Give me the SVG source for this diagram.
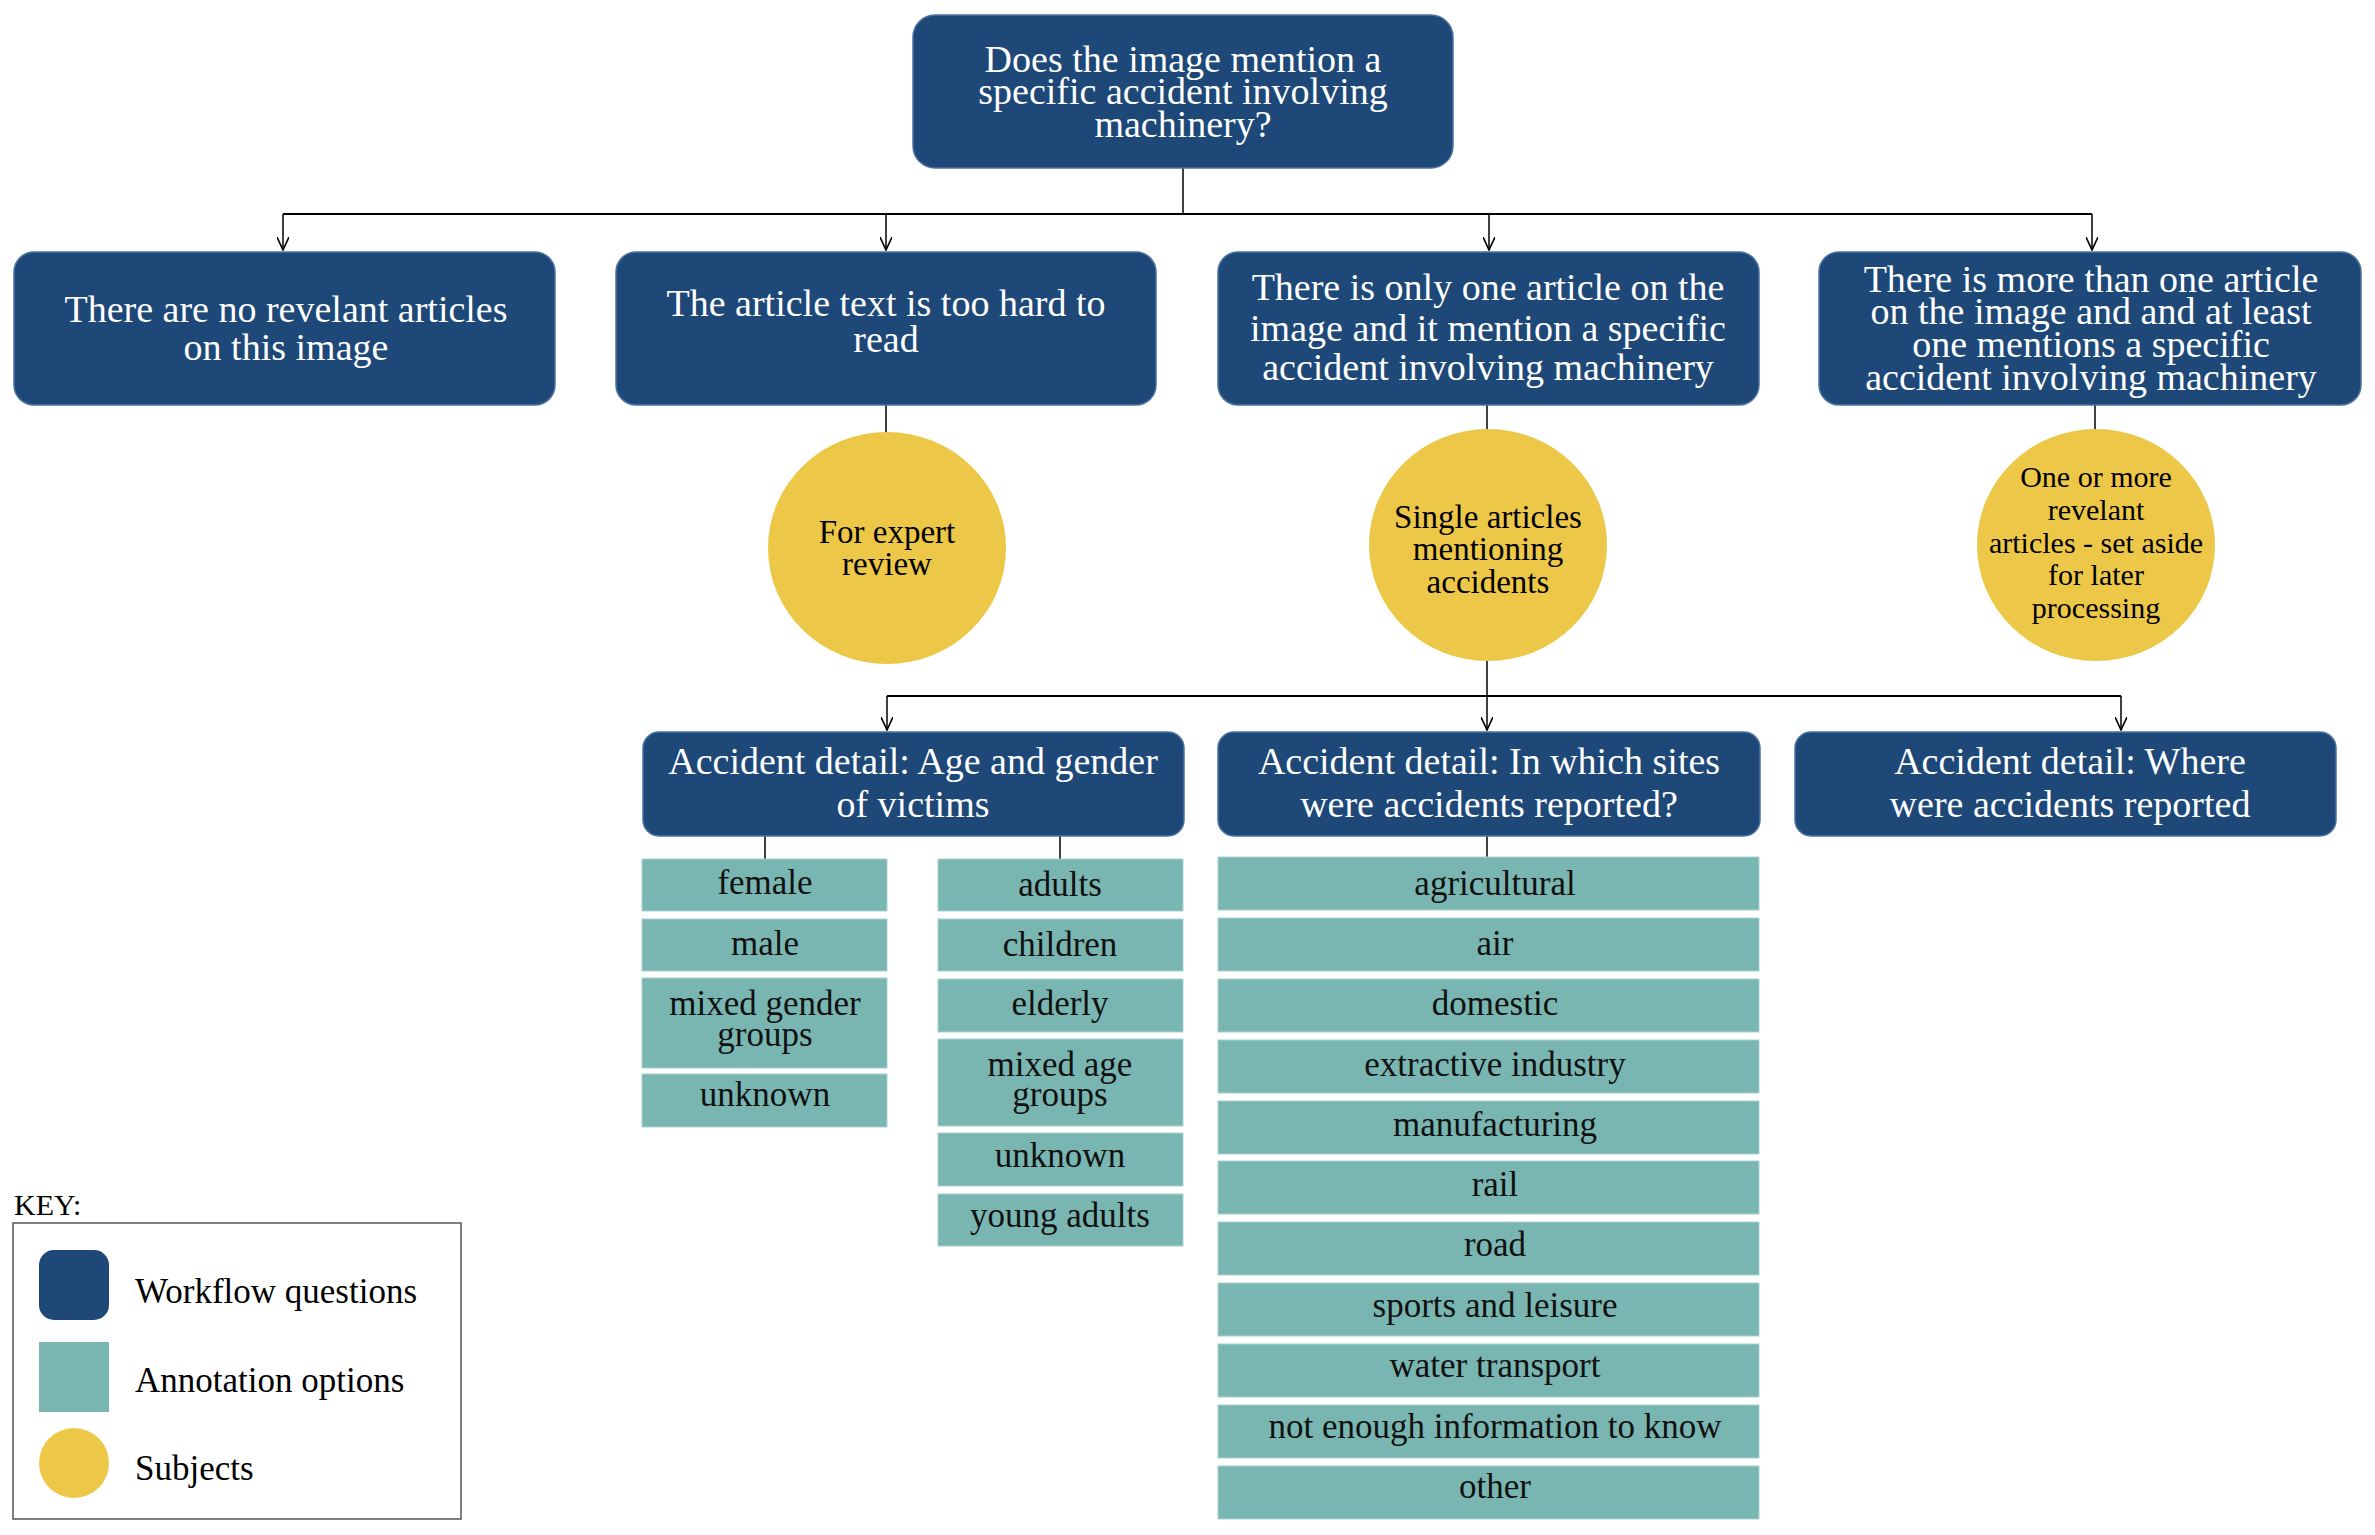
<svg xmlns="http://www.w3.org/2000/svg" width="2375" height="1535" viewBox="0 0 2375 1535">
<style>
.wf{fill:#1D4877;stroke:#4C72A0;stroke-width:1.5}
.opt{fill:#79B6B2;stroke:#A9D2CE;stroke-width:1}
.sub{fill:#EDC848}
.wt{font-family:"Liberation Serif","Times New Roman",serif;font-size:38px;fill:#FFFFFF;text-anchor:middle}
.st{font-family:"Liberation Serif","Times New Roman",serif;font-size:33px;fill:#000000;text-anchor:middle}
.ot{font-family:"Liberation Serif","Times New Roman",serif;font-size:35px;fill:#111111;text-anchor:middle}
.kt{font-family:"Liberation Serif","Times New Roman",serif;font-size:35px;fill:#000000}
.ln{stroke:#000000;stroke-width:1.5;fill:none}
.hl{stroke:#000000;stroke-width:2.2;fill:none}
</style>
<defs>
<marker id="arr" viewBox="0 0 14 12" refX="13" refY="6" markerWidth="14" markerHeight="12" markerUnits="userSpaceOnUse" orient="auto">
<polyline points="0,0 13,6 0,12" fill="none" stroke="#000000" stroke-width="1.6"/>
</marker>
</defs>
<rect width="2375" height="1535" fill="#FFFFFF"/>

<g id="connectors">
<line class="ln" x1="1183" y1="168" x2="1183" y2="214"/>
<line class="hl" x1="283" y1="214" x2="2092" y2="214"/>
<line class="ln" x1="283" y1="214" x2="283" y2="250" marker-end="url(#arr)"/>
<line class="ln" x1="886" y1="214" x2="886" y2="250" marker-end="url(#arr)"/>
<line class="ln" x1="1489" y1="214" x2="1489" y2="250" marker-end="url(#arr)"/>
<line class="ln" x1="2092" y1="214" x2="2092" y2="250" marker-end="url(#arr)"/>
<line class="ln" x1="886" y1="405" x2="886" y2="433"/>
<line class="ln" x1="1487" y1="405" x2="1487" y2="430"/>
<line class="ln" x1="2095" y1="405" x2="2095" y2="430"/>
<line class="ln" x1="1487" y1="661" x2="1487" y2="730" marker-end="url(#arr)"/>
<line class="hl" x1="887" y1="696" x2="2121" y2="696"/>
<line class="ln" x1="887" y1="696" x2="887" y2="730" marker-end="url(#arr)"/>
<line class="ln" x1="2121" y1="696" x2="2121" y2="730" marker-end="url(#arr)"/>
<line class="ln" x1="765" y1="836" x2="765" y2="859"/>
<line class="ln" x1="1060" y1="836" x2="1060" y2="859"/>
<line class="ln" x1="1487" y1="836" x2="1487" y2="857"/>
</g>

<g id="q-main">
<rect class="wf" x="913" y="15" width="540" height="153" rx="22"/>
<text class="wt" x="1183" y="72">Does the image mention a</text>
<text class="wt" x="1183" y="104">specific accident involving</text>
<text class="wt" x="1183" y="137">machinery?</text>
</g>

<g id="q-none">
<rect class="wf" x="14" y="252" width="541" height="153" rx="20"/>
<text class="wt" x="286" y="322">There are no revelant articles</text>
<text class="wt" x="286" y="360">on this image</text>
</g>

<g id="q-hard">
<rect class="wf" x="616" y="252" width="540" height="153" rx="20"/>
<text class="wt" x="886" y="316">The article text is too hard to</text>
<text class="wt" x="886" y="352">read</text>
</g>

<g id="q-one">
<rect class="wf" x="1218" y="252" width="541" height="153" rx="20"/>
<text class="wt" x="1488" y="300">There is only one article on the</text>
<text class="wt" x="1488" y="341">image and it mention a specific</text>
<text class="wt" x="1488" y="380">accident involving machinery</text>
</g>

<g id="q-more">
<rect class="wf" x="1819" y="252" width="542" height="153" rx="20"/>
<text class="wt" x="2091" y="292">There is more than one article</text>
<text class="wt" x="2091" y="324">on the image and and at least</text>
<text class="wt" x="2091" y="357">one mentions a specific</text>
<text class="wt" x="2091" y="390">accident involving machinery</text>
</g>

<g id="s-expert">
<ellipse class="sub" cx="887" cy="548" rx="119" ry="116"/>
<text class="st" x="887" y="543">For expert</text>
<text class="st" x="887" y="575">review</text>
</g>

<g id="s-single">
<ellipse class="sub" cx="1488" cy="545" rx="119" ry="116"/>
<text class="st" x="1488" y="528">Single articles</text>
<text class="st" x="1488" y="560">mentioning</text>
<text class="st" x="1488" y="593">accidents</text>
</g>

<g id="s-multi">
<ellipse class="sub" cx="2096" cy="545" rx="119" ry="116"/>
<text class="st" x="2096" y="487" style="font-size:30px">One or more</text>
<text class="st" x="2096" y="520" style="font-size:30px">revelant</text>
<text class="st" x="2096" y="553" style="font-size:30px">articles - set aside</text>
<text class="st" x="2096" y="585" style="font-size:30px">for later</text>
<text class="st" x="2096" y="618" style="font-size:30px">processing</text>
</g>

<g id="q-age">
<rect class="wf" x="643" y="732" width="541" height="104" rx="16"/>
<text class="wt" x="913" y="774">Accident detail: Age and gender</text>
<text class="wt" x="913" y="817">of victims</text>
</g>

<g id="q-sites">
<rect class="wf" x="1218" y="732" width="542" height="104" rx="16"/>
<text class="wt" x="1489" y="774">Accident detail: In which sites</text>
<text class="wt" x="1489" y="817">were accidents reported?</text>
</g>

<g id="q-where">
<rect class="wf" x="1795" y="732" width="541" height="104" rx="16"/>
<text class="wt" x="2070" y="774">Accident detail: Where</text>
<text class="wt" x="2070" y="817">were accidents reported</text>
</g>

<g id="opts-gender">
<rect class="opt" x="642" y="859" width="245" height="52"/>
<text class="ot" x="765" y="894">female</text>
<rect class="opt" x="642" y="919" width="245" height="52"/>
<text class="ot" x="765" y="955">male</text>
<rect class="opt" x="642" y="978" width="245" height="90"/>
<text class="ot" x="765" y="1015">mixed gender</text>
<text class="ot" x="765" y="1046">groups</text>
<rect class="opt" x="642" y="1074" width="245" height="53"/>
<text class="ot" x="765" y="1106">unknown</text>
</g>

<g id="opts-age">
<rect class="opt" x="938" y="859" width="245" height="52"/>
<text class="ot" x="1060" y="896">adults</text>
<rect class="opt" x="938" y="919" width="245" height="52"/>
<text class="ot" x="1060" y="956">children</text>
<rect class="opt" x="938" y="979" width="245" height="53"/>
<text class="ot" x="1060" y="1015">elderly</text>
<rect class="opt" x="938" y="1039" width="245" height="87"/>
<text class="ot" x="1060" y="1076">mixed age</text>
<text class="ot" x="1060" y="1106">groups</text>
<rect class="opt" x="938" y="1133" width="245" height="53"/>
<text class="ot" x="1060" y="1167">unknown</text>
<rect class="opt" x="938" y="1194" width="245" height="52"/>
<text class="ot" x="1060" y="1227">young adults</text>
</g>

<g id="opts-sites">
<rect class="opt" x="1218" y="857" width="541" height="53"/>
<text class="ot" x="1495" y="895">agricultural</text>
<rect class="opt" x="1218" y="918" width="541" height="53"/>
<text class="ot" x="1495" y="955">air</text>
<rect class="opt" x="1218" y="979" width="541" height="53"/>
<text class="ot" x="1495" y="1015">domestic</text>
<rect class="opt" x="1218" y="1040" width="541" height="53"/>
<text class="ot" x="1495" y="1076">extractive industry</text>
<rect class="opt" x="1218" y="1101" width="541" height="53"/>
<text class="ot" x="1495" y="1136">manufacturing</text>
<rect class="opt" x="1218" y="1161" width="541" height="53"/>
<text class="ot" x="1495" y="1196">rail</text>
<rect class="opt" x="1218" y="1222" width="541" height="53"/>
<text class="ot" x="1495" y="1256">road</text>
<rect class="opt" x="1218" y="1283" width="541" height="53"/>
<text class="ot" x="1495" y="1317">sports and leisure</text>
<rect class="opt" x="1218" y="1344" width="541" height="53"/>
<text class="ot" x="1495" y="1377">water transport</text>
<rect class="opt" x="1218" y="1405" width="541" height="53"/>
<text class="ot" x="1495" y="1438">not enough information to know</text>
<rect class="opt" x="1218" y="1466" width="541" height="53"/>
<text class="ot" x="1495" y="1498">other</text>
</g>

<g id="key">
<text x="14" y="1215" style="font-family:'Liberation Serif','Times New Roman',serif;font-size:30px;fill:#000">KEY:</text>
<rect x="13" y="1223" width="448" height="296" fill="#FFFFFF" stroke="#555555" stroke-width="1.5"/>
<rect x="39" y="1250" width="70" height="70" rx="15" fill="#1D4877"/>
<text class="kt" x="135" y="1303">Workflow questions</text>
<rect x="39" y="1342" width="70" height="70" fill="#79B6B2"/>
<text class="kt" x="135" y="1392">Annotation options</text>
<circle cx="74" cy="1463" r="35" fill="#EDC848"/>
<text class="kt" x="135" y="1480">Subjects</text>
</g>
</svg>
